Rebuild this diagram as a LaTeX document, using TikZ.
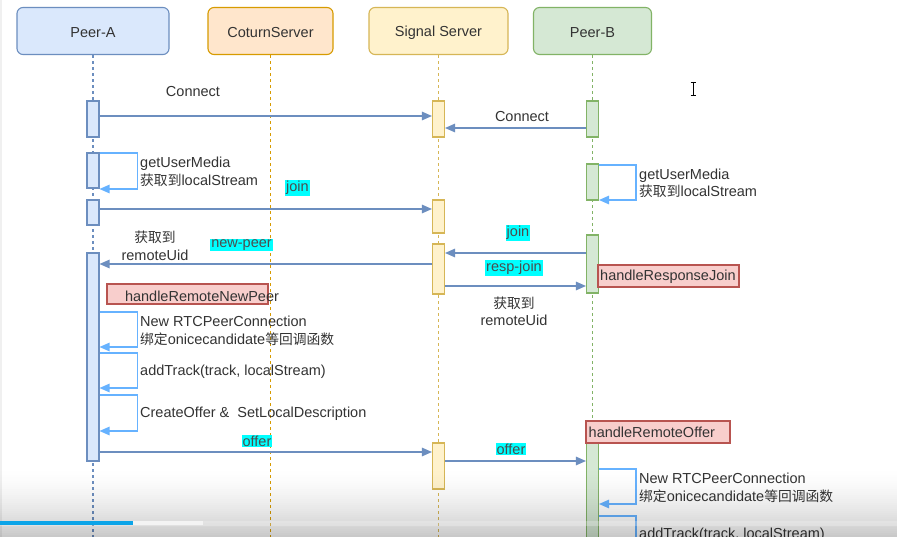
\documentclass[tikz,border=0pt]{standalone}
\usepackage{fontspec}
\setmainfont{Liberation Sans}
\newfontfamily\cjk{Noto Sans CJK SC}[Scale=0.95]
\usetikzlibrary{arrows.meta}
\definecolor{txt}{HTML}{333333}
\definecolor{aFill}{HTML}{DAE8FC}\definecolor{aDraw}{HTML}{6C8EBF}
\definecolor{cFill}{HTML}{FFE6CC}\definecolor{cDraw}{HTML}{D79B00}
\definecolor{sFill}{HTML}{FFF2CC}\definecolor{sDraw}{HTML}{D6B656}
\definecolor{bFill}{HTML}{D5E8D4}\definecolor{bDraw}{HTML}{82B366}
\definecolor{rFill}{HTML}{F8CECC}\definecolor{rDraw}{HTML}{B85450}
\definecolor{selfc}{HTML}{66B2FF}
\definecolor{msgc}{HTML}{6C8EBF}
\definecolor{cyanbg}{HTML}{00FFFF}
\definecolor{progblue}{HTML}{0CA4E8}
\begin{document}
\begin{tikzpicture}[x=1pt,y=-1pt,
  font=\fontsize{14.5}{17.5}\selectfont,
  every node/.style={text=txt},
  hdr/.style={draw, rounded corners=6pt, line width=1.1pt, minimum height=47pt, inner sep=0pt},
  hdrtext/.style={inner sep=0pt},
  bar/.style={draw, line width=1.1pt, minimum width=12pt, inner sep=0pt},
  life/.style={line width=1.1pt, dash pattern=on 3pt off 3pt},
  msg/.style={draw=msgc, line width=1.2pt, -{Triangle[length=10pt,width=8.5pt]}},
  selfmsg/.style={draw=selfc, line width=1.2pt, -{Triangle[length=10pt,width=8.5pt]}},
  cl/.style={fill=cyanbg, inner sep=1pt, text=black!70},
  redbox/.style={draw=rDraw, fill=rFill, line width=1.1pt, inner sep=0pt},
  lt/.style={align=left, anchor=west, inner sep=0pt},
  ct/.style={align=center, inner sep=0pt}]
\useasboundingbox (0,0) rectangle (897,537);
\clip (0,0) rectangle (897,537);
\fill[white] (0,0) rectangle (897,537);
\fill[black!6] (0,0) rectangle (1.5,537);

% headers
\node[hdr, draw=aDraw, fill=aFill, minimum width=152pt] (pa) at (93,31) {};
\node[hdr, draw=cDraw, fill=cFill, minimum width=125pt] (pc) at (270.5,31) {};
\node[hdr, draw=sDraw, fill=sFill, minimum width=139pt] (ps) at (438.5,31) {};
\node[hdr, draw=bDraw, fill=bFill, minimum width=118pt] (pb) at (592.5,31) {};
\node[hdrtext] (tpa) at (93,32.5) {Peer-A};
\node[hdrtext] (tpc) at (270.5,32.5) {CoturnServer};
\node[hdrtext] (tps) at (438.5,32.5) {Signal Server};
\node[hdrtext] (tpb) at (592.5,32.5) {Peer-B};

% lifelines
\draw[life, draw=aDraw] (pa.south) -- (pa.south |- 0,545);
\draw[life, draw=cDraw] (pc.south) -- (pc.south |- 0,545);
\draw[life, draw=sDraw] (ps.south) -- (ps.south |- 0,545);
\draw[life, draw=bDraw] (pb.south) -- (pb.south |- 0,545);

% activation bars
\tikzset{barA/.style={bar, draw=aDraw, fill=aFill}, barS/.style={bar, draw=sDraw, fill=sFill}, barB/.style={bar, draw=bDraw, fill=bFill}}
\node[barA, minimum height=36pt] (a1) at (93,119) {};
\node[barA, minimum height=35pt] (a2) at (93,170.5) {};
\node[barA, minimum height=25pt] (a3) at (93,212.5) {};
\node[barA, minimum height=208pt] (a4) at (93,357) {};
\node[barS, minimum height=36pt] (s1) at (438.5,119) {};
\node[barS, minimum height=33pt] (s2) at (438.5,216.5) {};
\node[barS, minimum height=50pt] (s3) at (438.5,269) {};
\node[barS, minimum height=46pt] (s4) at (438.5,466) {};
\node[barB, minimum height=36pt] (b1) at (592.5,119) {};
\node[barB, minimum height=36pt] (b2) at (592.5,182) {};
\node[barB, minimum height=58pt] (b3) at (592.5,264) {};
\node[barB, minimum height=110pt] (b4) at (592.5,498) {};

% Connect
\draw[msg] (a1.east |- 0,116) -- (s1.west |- 0,116);
\node[ct] (lc1) at (193,92) {Connect};
\draw[msg] (b1.west |- 0,128) -- (s1.east |- 0,128);
\node[ct] (lc2) at (522,117) {Connect};

% getUserMedia A
\draw[selfmsg] (a2.east |- 0,153) -| ++(38,36) -- (a2.east |- 0,189);
\node[lt] (tg1) at (140,172) {getUserMedia\\{\cjk 获取到}localStream};

% join A
\draw[msg] (a3.east |- 0,209) -- (s2.west |- 0,209);
\node[cl] (lj1) at (297.5,188) {join};

% getUserMedia B
\draw[selfmsg] (b2.east |- 0,165) -| ++(37,35) -- (b2.east |- 0,200);
\node[lt] (tg2) at (639,183.5) {getUserMedia\\{\cjk 获取到}localStream};

% join B
\draw[msg] (b3.west |- 0,253) -- (s3.east |- 0,253);
\node[cl] (lj2) at (518,233) {join};

% new-peer
\draw[msg] (s3.west |- 0,264) -- (a4.east |- 0,264);
\node[cl] (lnp) at (241.5,245) {new-peer};
\node[ct] (tr1) at (155,246) {{\cjk 获取到}\\remoteUid};

% resp-join
\draw[msg] (s3.east |- 0,286) -- (b3.west |- 0,286);
\node[cl] (lrj) at (514,268) {resp-join};
\node[ct] (tr2) at (514,311.5) {{\cjk 获取到}\\remoteUid};

% handleResponseJoin
\node[redbox, minimum width=141pt, minimum height=22pt] (hrj) at (668.5,276) {};
\node[lt] (thrj) at (600,276.5) {handleResponseJoin};

% handleRemoteNewPeer
\node[redbox, minimum width=161pt, minimum height=20pt] (hnp) at (187.5,294) {};
\node[ct] (thnp) at (202,296) {handleRemoteNewPeer};

% A self calls
\draw[selfmsg] (a4.east |- 0,312) -| ++(38,35) -- (a4.east |- 0,347);
\node[lt] (tn1) at (140,331) {New RTCPeerConnection\\{\cjk 绑定}onicecandidate{\cjk 等回调函数}};
\draw[selfmsg] (a4.east |- 0,353) -| ++(38,35) -- (a4.east |- 0,388);
\node[lt] (tat1) at (140,372) {addTrack(track, localStream)};
\draw[selfmsg] (a4.east |- 0,395) -| ++(38,36) -- (a4.east |- 0,431);
\node[lt] (tco) at (140,414) {CreateOffer \&\ \ SetLocalDescription};

% offer A -> S
\draw[msg] (a4.east |- 0,452) -- (s4.west |- 0,452);
\node[cl] (lo1) at (257,441) {offer};
% offer S -> B
\draw[msg] (s4.east |- 0,461) -- (b4.west |- 0,461);
\node[cl] (lo2) at (511,449) {offer};

% handleRemoteOffer
\node[redbox, minimum width=144pt, minimum height=22pt] (hro) at (658,432) {};
\node[lt] (thro) at (588.5,432.5) {handleRemoteOffer};

% B self calls
\draw[selfmsg] (b4.east |- 0,469) -| ++(37,35) -- (b4.east |- 0,504);
\node[lt] (tn2) at (639,488) {New RTCPeerConnection\\{\cjk 绑定}onicecandidate{\cjk 等回调函数}};
\draw[selfmsg] (b4.east |- 0,516) -| ++(37,35) -- (b4.east |- 0,551);
\node[lt] (tat2) at (639,535) {addTrack(track, localStream)};

% text cursor
\draw[black, line width=0.8pt] (693,82) -- (693,95) (690.5,82) -- (695.5,82) (690.5,95) -- (695.5,95);

% video player overlay
\foreach \i in {0,...,35} {
  \pgfmathsetmacro{\op}{0.21*(\i/35)^1.7}
  \fill[black, opacity=\op] (0,465+2*\i) rectangle (897,467+2*\i);
}
\fill[white, opacity=0.25] (0,520.5) rectangle (897,525.5);
\fill[white, opacity=0.6] (133,521) rectangle (203,525);
\fill[progblue] (0,521) rectangle (133,525);
\end{tikzpicture}
\end{document}
